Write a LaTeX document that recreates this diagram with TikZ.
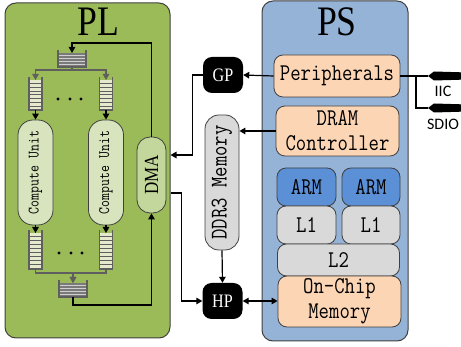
\documentclass[tikz,border=0pt]{standalone}
\usepackage{fontspec}
\usepackage{graphicx}
\setmainfont{Liberation Serif}
\newfontfamily\monof[FakeStretch=0.84]{Latin Modern Mono}
\newfontfamily\serf[FakeStretch=0.85]{Liberation Serif}
\newfontfamily\sanf{Carlito}
\usetikzlibrary{arrows.meta}
\definecolor{plgreen}{HTML}{9BBB59}
\definecolor{psblue}{HTML}{95B3D7}
\definecolor{peach}{HTML}{FCD5B5}
\definecolor{armblue}{HTML}{5B8FD6}
\definecolor{memgray}{HTML}{D9D9D9}
\definecolor{cugreen}{HTML}{D7E4BD}
\definecolor{dmagreen}{HTML}{C3D69B}
\definecolor{bordc}{HTML}{404040}
\definecolor{fifocr}{HTML}{E4EACB}
\definecolor{fifoln}{HTML}{5F5F5F}
\definecolor{fifodk}{HTML}{7A7A7A}
\definecolor{fifolt}{HTML}{CFCFCF}
\begin{document}
\begin{tikzpicture}[x=1pt,y=-1pt,
  panel/.style={draw=bordc, line width=1pt, rounded corners=11pt, inner sep=0pt},
  box/.style={draw=bordc, line width=0.8pt, rounded corners=9pt, inner sep=0pt, align=center,
    font={\monof\fontsize{24}{25}\selectfont}},
  title/.style={inner sep=0pt, font={\serf\fontsize{42}{44}\selectfont}},
  port/.style={fill=black, rounded corners=9pt, inner sep=0pt, text=white,
    minimum width=40pt, minimum height=36pt, font={\serf\fontsize{19}{20}\selectfont}},
  unitbox/.style={draw=bordc, line width=0.8pt, fill=cugreen, rounded corners=15pt, inner sep=0pt,
    minimum width=35pt, minimum height=105pt, font={\monof\fontsize{16}{17}\selectfont}},
  fifov/.style 2 args={inner sep=0pt, outer sep=0pt, fill=fifocr, minimum width=13pt, minimum height=#1pt,
    path picture={\foreach \k in {1,...,#2}{\draw[fifoln, line width=1pt]
      ([yshift={\k*#1/(#2+1)}]path picture bounding box.south west) --
      ([yshift={\k*#1/(#2+1)}]path picture bounding box.south east);}}},
  fifoh/.style={inner sep=0pt, outer sep=0pt, fill=fifodk, minimum width=28pt, minimum height=14pt,
    path picture={\foreach \k in {1,...,4}{\draw[fifolt, line width=0.9pt]
      ([yshift={\k*14/5}]path picture bounding box.south west) --
      ([yshift={\k*14/5}]path picture bounding box.south east);}}},
  fifoedge/.style={draw=fifoln, line width=1.1pt},
  conn/.style={draw=black, line width=1.2pt},
  gconn/.style={draw=fifoln, line width=1.1pt},
  arr/.style={-{Triangle[length=6pt,width=6.5pt]}},
  darr/.style={{Triangle[length=6pt,width=6.5pt]}-{Triangle[length=6pt,width=6.5pt]}},
  lbl/.style={inner sep=0pt, font={\sanf\fontsize{16}{17}\selectfont}}
]
\useasboundingbox (0,0) rectangle (461,347);

% panels
\node[panel, fill=plgreen, minimum width=165pt, minimum height=335pt] (pl) at (87.5,170.5) {};
\node[panel, fill=psblue, minimum width=146pt, minimum height=340pt] (ps) at (335,171) {};
\node[title] (plt) at (98,22) {PL};
\node[title] (pst) at (337,22) {PS};

% PS contents
\node[box, fill=peach, minimum width=126pt, minimum height=42pt] (periph) at (337,76) {Peripherals};
\node[box, fill=peach, minimum width=123pt, minimum height=50pt] (dram) at (337.5,131) {DRAM\\Controller};
\node[box, fill=armblue, minimum width=59pt, minimum height=38pt] (arm1) at (306.5,187) {ARM};
\node[box, fill=armblue, minimum width=58pt, minimum height=38pt] (arm2) at (371,187) {ARM};
\node[box, fill=memgray, minimum width=59pt, minimum height=38pt] (l1a) at (306.5,225) {L1};
\node[box, fill=memgray, minimum width=58pt, minimum height=38pt] (l1b) at (371,225) {L1};
\node[box, fill=memgray, minimum width=122pt, minimum height=32pt] (l2) at (338.5,260) {L2};
\node[box, fill=peach, minimum width=123pt, minimum height=51pt] (ocm) at (339.5,301.5) {On-Chip\\Memory};

% middle
\node[port] (gp) at (223,75) {GP};
\node[port] (hp) at (222.5,301) {HP};
\node[box, fill=memgray, rounded corners=14pt, minimum width=34pt, minimum height=135pt] (ddr) at (222,182.5)
  {\rotatebox{90}{DDR3 Memory}};

% PL contents
\node[unitbox] (cu1) at (35.5,172.5) {\rotatebox{90}{Compute Unit}};
\node[unitbox] (cu2) at (106,172.5) {\rotatebox{90}{Compute Unit}};
\node[draw=bordc, line width=0.8pt, fill=dmagreen, rounded corners=13pt, inner sep=0pt,
  minimum width=29pt, minimum height=76pt, font={\serf\fontsize{20}{21}\selectfont}] (dma) at (151.5,175)
  {\rotatebox{90}{DMA}};

\node[fifoh] (fifot) at (72,60) {};
\node[fifoh] (fifob) at (73,290) {};
\node[fifov={30}{7}] (fv1) at (35.5,95) {};
\node[fifov={30}{7}] (fv2) at (106,95) {};
\node[fifov={36}{8}] (fv3) at (35.5,251) {};
\node[fifov={36}{8}] (fv4) at (106,251) {};
\foreach \f in {fifot,fifob,fv1,fv2,fv3,fv4}{
  \draw[fifoedge] ([yshift=3pt]\f.north west) -- (\f.south west) -- (\f.south east) -- ([yshift=3pt]\f.north east);
}

% dots
\foreach \x in {58,70,81}{
  \fill (\x,99) circle (1.7pt);
  \fill (\x+1,253) circle (1.7pt);
}

% PL connectors
\draw[gconn, arr] (fifot.south) -- ++(0,3) -| (fv1.north);
\draw[gconn, arr] (fifot.south) -- ++(0,3) -| (fv2.north);
\draw[conn, arr] (fv1.south) -- (cu1.north);
\draw[conn, arr] (fv2.south) -- (cu2.north);
\draw[conn, arr] (cu1.south) -- (fv3.north);
\draw[conn, arr] (cu2.south) -- (fv4.north);
\draw[gconn, arr] (fv3.south) -- ++(0,4) -| (fifob.north);
\draw[gconn, arr] (fv4.south) -- ++(0,4) -| (fifob.north);
\draw[conn, arr] (fifob.south) -- ++(0,8) -| (dma.south);
\draw[conn, arr] (dma.north) -- (dma.north |- 0,43) -| (fifot.north);

% middle connectors
\draw[conn, arr] (periph.west) -- (gp.east);
\draw[conn, arr] (gp.west) -- ++(-10,0) |- (pl.east |- 0,155);
\draw[conn, arr] (dram.west) -- (dram.west -| ddr.east);
\draw[conn, arr] (ddr.south) -- (hp.north);
\draw[conn, arr] (pl.east |- 0,193) -- ++(11,0) |- (hp.west);
\draw[conn, darr] (hp.east) -- (hp.east -| ocm.west);

% external connectors
\coordinate (iicp) at (428,76);
\coordinate (sdiop) at (428,108);
\coordinate (br) at (416,76);
\draw[conn] (periph.east) -- (iicp);
\draw[conn] (br) |- (sdiop);
\foreach \c in {iicp,sdiop}{
  \fill (\c) -- ++(6,-4.5) -- ++(27,0.8) -- ++(0,7.4) -- ++(-27,0.8) -- cycle;
}
\node[lbl] (iic) at (443,91) {IIC};
\node[lbl] (sdio) at (443,124) {SDIO};
\end{tikzpicture}
\end{document}
